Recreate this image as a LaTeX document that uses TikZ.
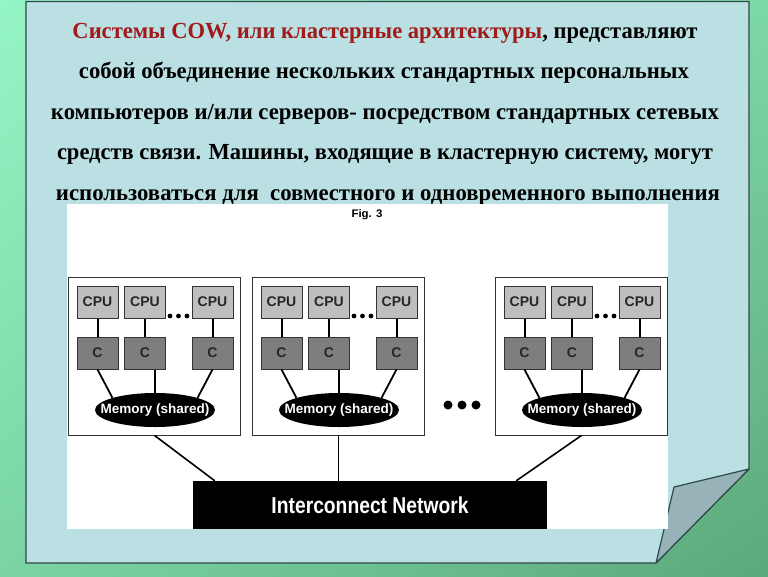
\documentclass[tikz,border=0pt]{standalone}
\usepackage{fontspec}
\usepackage{graphicx}
\usetikzlibrary{shapes.geometric,shadings}
\newfontfamily\serfont{Liberation Serif}
\newfontfamily\diafont{Liberation Sans}
\definecolor{dred}{HTML}{A11A1A}
\definecolor{pagec}{HTML}{BAE0E3}
\definecolor{flapc}{HTML}{97B3B8}
\definecolor{edgec}{HTML}{2E4A48}
\definecolor{cpufill}{HTML}{BEBEBE}
\definecolor{cfill}{HTML}{7E7E7E}
\definecolor{bgA}{HTML}{95F4C6}
\definecolor{bgB}{HTML}{7DD8A7}
\definecolor{bgC}{HTML}{7AD4A3}
\definecolor{bgD}{HTML}{5CA87D}
\begin{document}
\begin{tikzpicture}[x=1pt,y=-1pt,
  txt/.style={anchor=base, inner sep=0pt, font=\serfont\bfseries\fontsize{23}{26}\selectfont},
  outerbox/.style={draw=black!80, line width=0.9pt, fill=white, minimum width=172pt, minimum height=158pt, inner sep=0pt},
  cpubox/.style={draw=black!80, line width=1pt, fill=cpufill, minimum width=41pt, minimum height=32pt, inner sep=0pt, font=\diafont\bfseries\fontsize{14}{15}\selectfont, text=black!85},
  cbox/.style={cpubox, fill=cfill},
  membox/.style={ellipse, fill=black, minimum width=120pt, minimum height=34pt, inner sep=0pt},
  memtext/.style={font=\diafont\bfseries\fontsize{13.5}{14}\selectfont, text=white, inner sep=0pt},
  wire/.style={draw=black, line width=1.8pt},
  netbox/.style={fill=black, minimum width=354pt, minimum height=48pt, inner sep=0pt, text=white, font=\diafont\bfseries\fontsize{23}{24}\selectfont},
  dotc/.style={fill=black, circle, inner sep=0pt}
]
\useasboundingbox (0,0) rectangle (768,576);
% background
\shade[upper left=bgA, upper right=bgB, lower left=bgC, lower right=bgD] (0,0) rectangle (768,576);
% page
\draw[fill=pagec, draw=edgec, line width=1.2pt] (26,1.5) -- (749,1.5) -- (749,469) -- (656,563) -- (26,563) -- cycle;
\draw[fill=flapc, draw=edgec, line width=1.2pt, line join=round] (749,469) -- (674,487) -- (656,563) -- cycle;
% text
\node[txt] (t1) at (385,38) {\resizebox{625pt}{\height}{\textcolor{dred}{Системы COW, или кластерные архитектуры}, представляют}};
\node[txt] (t2) at (384,78) {\resizebox{610pt}{\height}{собой объединение нескольких стандартных персональных}};
\node[txt] (t3) at (385,119) {\resizebox{668pt}{\height}{компьютеров и/или серверов- посредством стандартных сетевых}};
\node[txt] (t4) at (385,159) {\resizebox{656pt}{\height}{средств связи. Машины, входящие в кластерную систему, могут}};
\node[txt] (t5) at (388,200) {\resizebox{664pt}{\height}{использоваться для\ \ совместного и одновременного выполнения}};
% figure
\fill[white] (67,204) rectangle (668,529);
\node[font=\diafont\bfseries\fontsize{11}{12}\selectfont, inner sep=0pt] (fig) at (367,215) {\resizebox{31pt}{\height}{Fig. 3}};
\foreach \k/\dx in {1/0,2/184,3/427} {
  \node[outerbox] (box\k) at (154.5+\dx,356) {};
  \node[cpubox] (pa\k) at (97.5+\dx,302) {CPU};
  \node[cpubox] (pb\k) at (145+\dx,302) {CPU};
  \node[cpubox] (pc\k) at (212.5+\dx,302) {CPU};
  \node[cbox] (ca\k) at (97.5+\dx,353) {C};
  \node[cbox] (cb\k) at (145+\dx,353) {C};
  \node[cbox] (cc\k) at (212.5+\dx,353) {C};
  \node[membox, label={[memtext]center:Memory (shared)}] (m\k) at (155+\dx,410) {};
  \draw[wire, line width=2pt] (pa\k) -- (ca\k);
  \draw[wire, line width=2pt] (pb\k) -- (cb\k);
  \draw[wire, line width=2pt] (pc\k) -- (cc\k);
  \draw[wire] (ca\k.south) -- (m\k.north west);
  \draw[wire] (m\k.north |- cb\k.south) -- (m\k.north);
  \draw[wire] (cc\k.south) -- (m\k.north east);
  \node[dotc, minimum size=4.8pt] (da\k) at (170+\dx,316) {};
  \node[dotc, minimum size=4.8pt] (db\k) at (178.5+\dx,316) {};
  \node[dotc, minimum size=4.8pt] (dc\k) at (187+\dx,316) {};
}
\node[dotc, minimum size=9pt] (bd1) at (448,405) {};
\node[dotc, minimum size=9pt] (bd2) at (462,405) {};
\node[dotc, minimum size=9pt] (bd3) at (476,405) {};
\node[netbox] (net) at (370,505) {\resizebox{197pt}{\height}{Interconnect Network}};
\draw[wire, line width=1.6pt] (box1.south) -- ([xshift=22pt]net.north west);
\draw[wire, line width=1.6pt] (box2.south) -- (box2.south |- net.north);
\draw[wire, line width=1.6pt] (box3.south) -- ([xshift=-31pt]net.north east);
\end{tikzpicture}
\end{document}
